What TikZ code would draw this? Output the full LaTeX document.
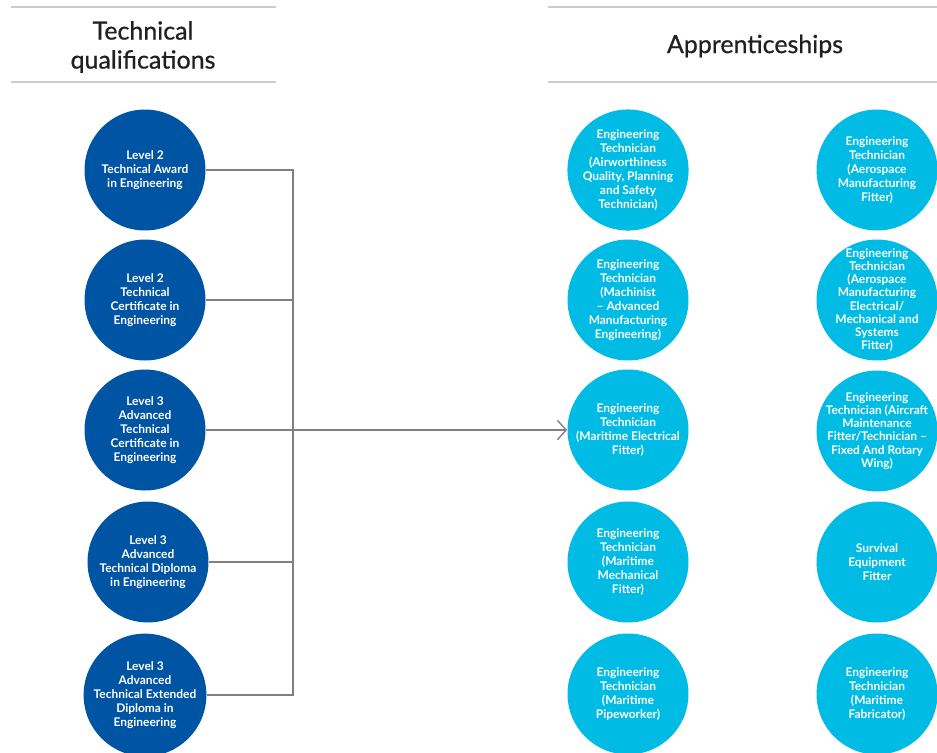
\documentclass[tikz,border=0pt]{standalone}
\usepackage{fontspec}
\setmainfont{Lato}
\newfontfamily\headfont{Lato}[FakeBold=0.7]
\usetikzlibrary{arrows.meta}
\definecolor{qualblue}{RGB}{0,84,164}
\definecolor{apprcyan}{RGB}{0,188,228}
\definecolor{linkgrey}{RGB}{128,128,128}
\definecolor{rulegrey}{RGB}{204,204,204}
\definecolor{headink}{RGB}{35,31,32}

\begin{document}
\begin{tikzpicture}[x=0.02cm,y=-0.02cm,
  qual/.style={circle,fill=qualblue,minimum size=2.42cm,inner sep=0pt,
    align=center,text=white,font=\fontsize{6.8}{8}\selectfont\bfseries},
  appr/.style={qual,fill=apprcyan},
  packed/.style={inner sep=-14pt,font=\fontsize{6.8}{7.5}\selectfont\bfseries},
  link/.style={linkgrey,line width=0.8pt},
  rulebar/.style={rulegrey,line width=0.8pt},
  head/.style={align=center,text=headink,font=\headfont\fontsize{14.2}{16.5}\selectfont}]

\clip (0,0) rectangle (937,752);

% headings
\coordinate (LT0) at (11,7);   \coordinate (LT1) at (276,7);
\coordinate (LB0) at (11,82);  \coordinate (LB1) at (276,82);
\coordinate (RT0) at (548,7);  \coordinate (RT1) at (937,7);
\coordinate (RB0) at (548,82); \coordinate (RB1) at (937,82);
\draw[rulebar] (LT0) -- (LT1);
\draw[rulebar] (LB0) -- (LB1);
\draw[rulebar] (RT0) -- (RT1);
\draw[rulebar] (RB0) -- (RB1);

\node[head] (techhead) at (143,47) {Technical\\qualifications};
\node[head] (apprhead) at (755,46) {Apprenticeships};

% technical qualifications
\node[qual] (Q1) at (145,170) {Level 2\\Technical Award\\in Engineering};
\node[qual] (Q2) at (145,300) {Level 2\\Technical\\Certificate in\\Engineering};
\node[qual] (Q3) at (145,430) {Level 3\\Advanced\\Technical\\Certificate in\\Engineering};
\node[qual] (Q4) at (148,562) {Level 3\\Advanced\\Technical Diploma\\in Engineering};
\node[qual] (Q5) at (145,695) {Level 3\\Advanced\\Technical Extended\\Diploma in\\Engineering};

% apprenticeships
\node[appr] (A1) at (628,170) {Engineering\\Technician\\(Airworthiness\\Quality, Planning\\and Safety\\Technician)};
\node[appr] (A2) at (628,300) {Engineering\\Technician\\(Machinist\\-- Advanced\\Manufacturing\\Engineering)};
\node[appr] (A3) at (628,430) {Engineering\\Technician\\(Maritime Electrical\\Fitter)};
\node[appr] (A4) at (628,562) {Engineering\\Technician\\(Maritime\\Mechanical\\Fitter)};
\node[appr] (A5) at (628,694) {Engineering\\Technician\\(Maritime\\Pipeworker)};

\node[appr] (B1) at (877,170) {Engineering\\Technician\\(Aerospace\\Manufacturing\\Fitter)};
\node[appr,packed] (B2) at (877,300) {Engineering\\Technician\\(Aerospace\\Manufacturing\\Electrical/\\Mechanical and\\Systems\\Fitter)};
\node[appr,packed] (B3) at (877,431) {Engineering\\Technician (Aircraft\\Maintenance\\Fitter/Technician --\\Fixed And Rotary\\Wing)};
\node[appr] (B4) at (877,562) {Survival\\Equipment\\Fitter};
\node[appr] (B5) at (877,694) {Engineering\\Technician\\(Maritime\\Fabricator)};

% links
\coordinate (bus) at (293,0);
\draw[link] (Q1.east) -- (Q1.east -| bus) -- (Q5.east -| bus) -- (Q5.east);
\draw[link] (Q2.east) -- (Q2.east -| bus);
\draw[link] (Q3.east) -- (Q3.east -| bus);
\draw[link] (Q4.east) -- (Q4.east -| bus);
\draw[link,-{Straight Barb[length=5pt,width=11pt]}] (Q3.east -| bus) -- (A3.west);

\end{tikzpicture}
\end{document}
